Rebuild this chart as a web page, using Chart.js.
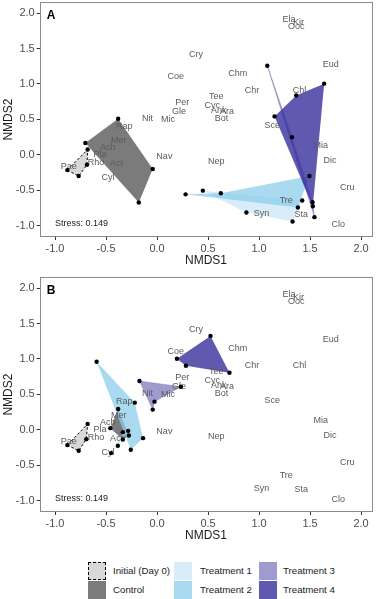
<!DOCTYPE html>
<html><head><meta charset="utf-8">
<script src="https://cdn.jsdelivr.net/npm/chart.js@4.4.1/dist/chart.umd.min.js"></script>
<style>
html,body{margin:0;padding:0;background:#fff;}
body{width:378px;height:599px;position:relative;overflow:hidden;font-family:"Liberation Sans",Arial,sans-serif;}
canvas{position:absolute;left:0;}
#cA{top:0;}
#cB{top:275px;}
.sw{position:absolute;width:18px;height:18px;box-sizing:border-box;}
.lb{position:absolute;font-size:9.7px;color:#1a1a1a;line-height:18px;white-space:nowrap;}
</style></head><body>
<canvas id="cA" width="378" height="270"></canvas>
<canvas id="cB" width="378" height="270"></canvas>
<div id="legend"></div>
<script>
// ---- tick values ----
const xTicks = [-1.0, -0.5, 0.0, 0.5, 1.0, 1.5, 2.0];
const yTicks = [-1.0, -0.5, 0.0, 0.5, 1.0, 1.5, 2.0];

// ---- species scores (text labels) ----
const species  = ['Ela','Kir','Ooc','Cry','Eud','Coe','Chm','Chr','Chl','Tee','Per','Cyc','Ank','Ara','Gle','Bot','Nit','Mic','Rap','Sce','Mer','Mia','Ach','Pla','Nav','Nep','Dic','Rho','Act','Pae','Cyl','Cru','Tre','Sta','Syn','Clo'];
const speciesX = [1.293,1.387,1.364,0.381,1.703,0.183,0.791,0.932,1.397,0.580,0.248,0.541,0.606,0.687,0.215,0.632,-0.094,0.107,-0.322,1.130,-0.374,1.605,-0.484,-0.560,0.072,0.580,1.696,-0.599,-0.396,-0.865,-0.481,1.865,1.267,1.413,1.025,1.777];
const speciesY = [1.903,1.870,1.810,1.421,1.272,1.104,1.146,0.907,0.907,0.823,0.734,0.701,0.627,0.617,0.617,0.510,0.515,0.505,0.393,0.416,0.196,0.126,0.102,0.000,-0.018,-0.088,-0.084,-0.108,-0.116,-0.168,-0.318,-0.458,-0.645,-0.846,-0.823,-0.982];

// ---- groups ----
const groups = ['Initial (Day 0)','Control','Treatment 1','Treatment 2','Treatment 3','Treatment 4'];
const fills  = ['rgba(200,200,200,0.7)','rgba(90,90,90,0.8)','rgba(190,225,245,0.6)','rgba(140,205,235,0.75)','rgba(120,112,185,0.7)','rgba(55,48,156,0.8)'];

// ---- panel A site scores (polygon order) ----
const A_initialX = [-0.879,-0.768,-0.687,-0.680];
const A_initialY = [-0.215,-0.299,-0.140,0.075];
const A_controlX = [-0.703,-0.381,-0.042,-0.179];
const A_controlY = [0.168,0.509,-0.200,-0.673];
const A_t1X = [0.449,1.423,1.328,0.876];
const A_t1Y = [-0.505,-0.645,-0.940,-0.813];
const A_t2X = [0.280,0.625,1.494,1.381];
const A_t2Y = [-0.557,-0.542,-0.299,-0.743];
const A_t3X = [1.081,1.322,1.524,1.543];
const A_t3Y = [1.258,0.248,-0.669,-0.879];
const A_t4X = [1.152,1.364,1.638,1.527];
const A_t4Y = [0.543,0.837,1.005,-0.725];

// ---- panel B site scores (polygon order) ----
const B_initialX = [-0.879,-0.768,-0.693,-0.680];
const B_initialY = [-0.215,-0.295,-0.131,0.084];
const B_controlX = [-0.381,-0.458,-0.335,-0.276];
const B_controlY = [0.295,0.024,-0.135,-0.080];
const B_t1X = [-0.450,-0.384,-0.283,-0.335];
const B_t1Y = [-0.328,-0.225,-0.014,-0.032];
const B_t2X = [-0.592,-0.218,-0.137,-0.257];
const B_t2Y = [0.961,0.384,-0.117,-0.281];
const B_t3X = [-0.172,0.234,-0.025,-0.042];
const B_t3Y = [0.689,0.609,0.398,0.286];
const B_t4X = [0.195,0.524,0.710,0.283];
const B_t4Y = [1.003,1.326,0.806,0.905];

const stressText = 'Stress: 0.149';

function pts(xs, ys){ return xs.map((x,i)=>({x:x, y:ys[i]})); }

const nmdsPlugin = {
  id: 'nmds',
  beforeDatasetsDraw(chart, args, opts){
    const ctx = chart.ctx, xs = chart.scales.x, ys = chart.scales.y, ca = chart.chartArea;
    ctx.save();
    ctx.beginPath(); ctx.rect(ca.left, ca.top, ca.right-ca.left, ca.bottom-ca.top); ctx.clip();
    // hulls
    chart.data.datasets.forEach((ds, di)=>{
      const meta = chart.getDatasetMeta(di);
      ctx.beginPath();
      meta.data.forEach((p,k)=>{ if(k===0) ctx.moveTo(p.x,p.y); else ctx.lineTo(p.x,p.y); });
      ctx.closePath();
      ctx.fillStyle = ds.hullFill;
      ctx.fill();
      if (ds.hullDash){
        ctx.setLineDash([2.5,2]); ctx.lineWidth = 1; ctx.strokeStyle = '#000'; ctx.stroke(); ctx.setLineDash([]);
      } else if (ds.hullStroke){
        ctx.lineWidth = 0.6; ctx.strokeStyle = ds.hullFill; ctx.stroke();
      }
    });
    // species labels
    ctx.font = '9px "Liberation Sans", Arial, sans-serif';
    ctx.fillStyle = '#5a5a5a';
    ctx.textAlign = 'center'; ctx.textBaseline = 'middle';
    species.forEach((s,i)=>{
      ctx.fillText(s, xs.getPixelForValue(speciesX[i]), ys.getPixelForValue(speciesY[i]));
    });
    ctx.restore();
  },
  afterDraw(chart, args, opts){
    const ctx = chart.ctx, ca = chart.chartArea, xs = chart.scales.x, ys = chart.scales.y;
    ctx.save();
    ctx.strokeStyle = '#8a8a8a'; ctx.lineWidth = 1;
    ctx.strokeRect(Math.round(ca.left)+0.5, Math.round(ca.top)+0.5, Math.round(ca.right-ca.left)-1, Math.round(ca.bottom-ca.top)-1);
    ctx.fillStyle = '#000';
    ctx.font = 'bold 12px "Liberation Sans", Arial, sans-serif';
    ctx.textAlign = 'left'; ctx.textBaseline = 'middle';
    ctx.fillText(opts.letter, ca.left + 7, ca.top + 13.5);
    ctx.font = '9px "Liberation Sans", Arial, sans-serif';
    ctx.fillStyle = '#1a1a1a';
    ctx.fillText(stressText, xs.getPixelForValue(-1.0), ys.getPixelForValue(-0.965));
    ctx.restore();
  }
};

function noPad(s){ s.paddingTop = 0; s.paddingBottom = 0; s.paddingLeft = 0; s.paddingRight = 0; }

function makeChart(id, letter, sets, padTop){
  const datasets = sets.map((s,i)=>({
    label: groups[i],
    data: pts(s[0], s[1]),
    hullFill: fills[i],
    hullDash: i===0,
    hullStroke: i===4,
    backgroundColor: '#000',
    borderWidth: 0,
    pointRadius: 2.2,
    pointHoverRadius: 2.2
  }));
  return new Chart(document.getElementById(id), {
    type: 'scatter',
    data: { datasets },
    plugins: [nmdsPlugin],
    options: {
      responsive: false,
      animation: false,
      events: [],
      layout: { padding: { left: 0, right: 5.7, top: padTop, bottom: 0 } },
      plugins: { legend: { display: false }, tooltip: { enabled: false }, nmds: { letter } },
      scales: {
        x: {
          type: 'linear', min: -1.15, max: 2.11,
          afterBuildTicks: s => { s.ticks = xTicks.map(v=>({value:v})); },
          afterFit: s => { s.height = 33; noPad(s); },
          grid: { drawOnChartArea: false, drawTicks: true, tickLength: 3, color: '#333', lineWidth: 1 },
          border: { display: false },
          ticks: { padding: 2, color: '#4d4d4d', font: { size: 11, family: '"Liberation Sans", Arial, sans-serif' }, callback: v => v.toFixed(1), maxRotation: 0 },
          title: { display: true, text: 'NMDS1', color: '#1a1a1a', font: { size: 12, family: '"Liberation Sans", Arial, sans-serif' }, padding: { top: 0, bottom: 2 } }
        },
        y: {
          type: 'linear', min: -1.159, max: 2.154,
          afterBuildTicks: s => { s.ticks = yTicks.map(v=>({value:v})); },
          afterFit: s => { s.width = 39.7; noPad(s); },
          grid: { drawOnChartArea: false, drawTicks: true, tickLength: 3, color: '#333', lineWidth: 1 },
          border: { display: false },
          ticks: { padding: 2, color: '#4d4d4d', font: { size: 11, family: '"Liberation Sans", Arial, sans-serif' }, callback: v => v.toFixed(1) },
          title: { display: true, text: 'NMDS2', color: '#1a1a1a', font: { size: 12, family: '"Liberation Sans", Arial, sans-serif' }, padding: { top: 1.3, bottom: 0 } }
        }
      }
    }
  });
}

makeChart('cA', 'A', [[A_initialX,A_initialY],[A_controlX,A_controlY],[A_t1X,A_t1Y],[A_t2X,A_t2Y],[A_t3X,A_t3Y],[A_t4X,A_t4Y]], 1);
makeChart('cB', 'B', [[B_initialX,B_initialY],[B_controlX,B_controlY],[B_t1X,B_t1Y],[B_t2X,B_t2Y],[B_t3X,B_t3Y],[B_t4X,B_t4Y]], 1.7);

// ---- legend (3 columns x 2 rows, column-major) ----
const legCols = [{sw:88, lb:113},{sw:174, lb:200},{sw:258.5, lb:283}];
const legRows = [561.5, 580.5];
const leg = document.getElementById('legend');
groups.forEach((g,i)=>{
  const c = legCols[Math.floor(i/2)], r = legRows[i%2];
  const sw = document.createElement('div');
  sw.className = 'sw';
  sw.style.left = c.sw + 'px'; sw.style.top = r + 'px';
  sw.style.background = fills[i];
  if (i===0) sw.style.border = '1px dashed #000';
  leg.appendChild(sw);
  const lb = document.createElement('div');
  lb.className = 'lb';
  lb.style.left = c.lb + 'px'; lb.style.top = r + 'px';
  lb.textContent = g;
  leg.appendChild(lb);
});
</script>
</body></html>
